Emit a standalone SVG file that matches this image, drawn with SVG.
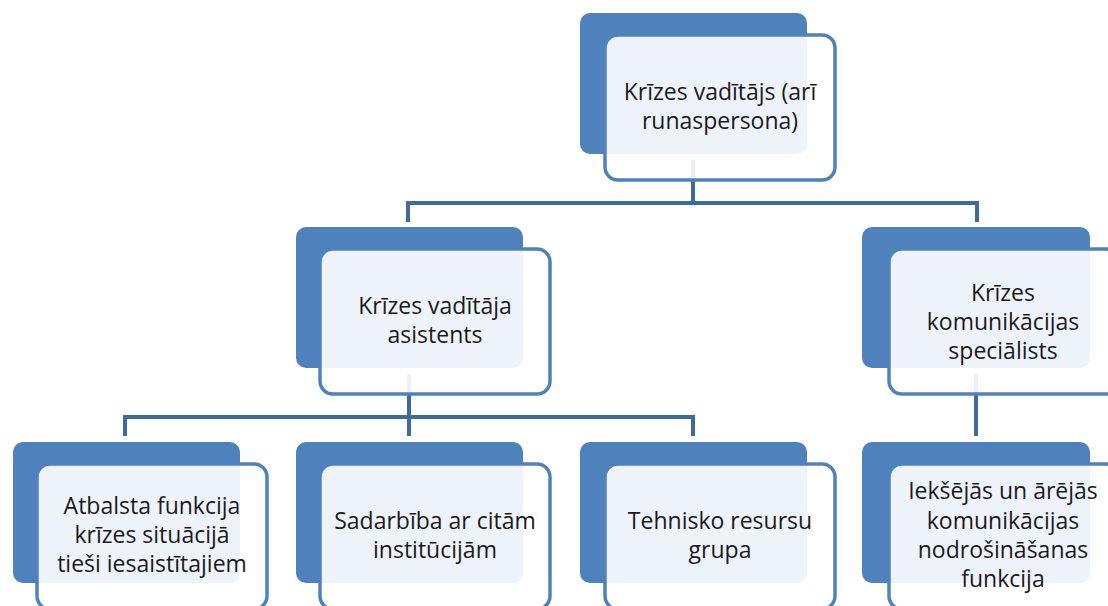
<svg xmlns="http://www.w3.org/2000/svg" width="1108" height="606" viewBox="0 0 1108 606">
<defs>
<style>
.back{fill:#4F81BD;}
.front{fill:#FFFFFF;fill-opacity:0.9;stroke:#4F81BD;stroke-width:3.5;}
.conn{fill:none;stroke:#3F6A9C;stroke-width:4;}
text{font-family:"Open Sans","Noto Sans",sans-serif;font-size:23px;fill:#1A1A1A;text-anchor:middle;}
</style>
</defs>
<rect width="1108" height="606" fill="#FFFFFF"/>
<g id="connectors">
<path class="conn" d="M693 160 V203 M408 203 H978 M408 201 V222 M977 201 V222"/>
<path class="conn" d="M409 374 V417 M125 417 H693 M125 415 V436 M409 415 V436 M693 415 V436"/>
<path class="conn" d="M976 374 V436"/>
</g>
<g id="node-top">
<rect class="back" x="580" y="13" width="227" height="141" rx="10"/>
<rect class="front" x="605" y="35" width="230" height="145" rx="13"/>
<text x="720" y="100">Krīzes vadītājs (arī</text>
<text x="720" y="129">runaspersona)</text>
</g>
<g id="node-assistant">
<rect class="back" x="296" y="227" width="227" height="141" rx="10"/>
<rect class="front" x="320" y="249" width="230" height="145" rx="13"/>
<text x="435" y="314">Krīzes vadītāja</text>
<text x="435" y="343">asistents</text>
</g>
<g id="node-comm">
<rect class="back" x="862" y="227" width="228" height="141" rx="10"/>
<rect class="front" x="889" y="249" width="230" height="145" rx="13"/>
<text x="1003" y="301">Krīzes</text>
<text x="1003" y="330">komunikācijas</text>
<text x="1003" y="359">speciālists</text>
</g>
<g id="node-support">
<rect class="back" x="13" y="442" width="227" height="141" rx="10"/>
<rect class="front" x="37" y="464" width="230" height="145" rx="13"/>
<text x="152" y="514">Atbalsta funkcija</text>
<text x="152" y="543">krīzes situācijā</text>
<text x="152" y="572">tieši iesaistītajiem</text>
</g>
<g id="node-cooperation">
<rect class="back" x="296" y="442" width="227" height="141" rx="10"/>
<rect class="front" x="320" y="464" width="230" height="145" rx="13"/>
<text x="435" y="529">Sadarbība ar citām</text>
<text x="435" y="558">institūcijām</text>
</g>
<g id="node-technical">
<rect class="back" x="580" y="442" width="227" height="141" rx="10"/>
<rect class="front" x="605" y="464" width="230" height="145" rx="13"/>
<text x="720" y="529">Tehnisko resursu</text>
<text x="720" y="558">grupa</text>
</g>
<g id="node-internal">
<rect class="back" x="862" y="442" width="228" height="141" rx="10"/>
<rect class="front" x="889" y="464" width="230" height="145" rx="13"/>
<text x="1003" y="499">Iekšējās un ārējās</text>
<text x="1003" y="529">komunikācijas</text>
<text x="1003" y="558">nodrošināšanas</text>
<text x="1003" y="587">funkcija</text>
</g>
</svg>
